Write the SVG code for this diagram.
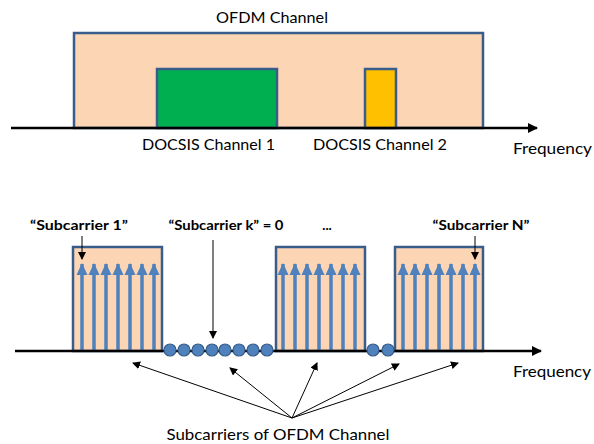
<svg xmlns="http://www.w3.org/2000/svg" width="594" height="444" viewBox="0 0 594 444">
<style>
text{font-family:Lato,"Liberation Sans",Arial,sans-serif;fill:#000}
.t{font-size:16px}
.b{font-size:13.5px;font-weight:bold}
.box{fill:#fcd5b5;stroke:#385d8a;stroke-width:2.5}
.axis{stroke:#000;stroke-width:2.5;fill:none}
.sc{stroke:#4f81bd;stroke-width:3.5;fill:none}
.dot{fill:#4f81bd;stroke:#385d8a;stroke-width:1.2}
.ptr{stroke:#000;stroke-width:1;fill:none}
</style>
<defs>
<marker id="ah" markerWidth="10" markerHeight="10" refX="9" refY="5" orient="auto" markerUnits="userSpaceOnUse"><path d="M0,0 L10,5 L0,10 z" fill="#000"/></marker>
<marker id="ahs" markerWidth="8" markerHeight="8" refX="7" refY="4" orient="auto" markerUnits="userSpaceOnUse"><path d="M0,0 L8,4 L0,8 z" fill="#000"/></marker>
<marker id="bh" markerWidth="12" markerHeight="12" refX="11" refY="6" orient="auto" markerUnits="userSpaceOnUse"><path d="M0,0.5 L12,6 L0,11.5 z" fill="#4f81bd"/></marker>
<g id="arr7">
<line class="sc" x1="0" y1="0" x2="0" y2="-87" marker-end="url(#bh)"/>
<line class="sc" x1="12" y1="0" x2="12" y2="-87" marker-end="url(#bh)"/>
<line class="sc" x1="24" y1="0" x2="24" y2="-87" marker-end="url(#bh)"/>
<line class="sc" x1="36" y1="0" x2="36" y2="-87" marker-end="url(#bh)"/>
<line class="sc" x1="48" y1="0" x2="48" y2="-87" marker-end="url(#bh)"/>
<line class="sc" x1="60" y1="0" x2="60" y2="-87" marker-end="url(#bh)"/>
<line class="sc" x1="72" y1="0" x2="72" y2="-87" marker-end="url(#bh)"/>
</g>
</defs>
<rect width="594" height="444" fill="#fff"/>

<!-- Top diagram -->
<g id="ofdm-channel">
<rect class="box" x="74" y="33" width="409" height="95"/>
<text class="t" x="272" y="23" text-anchor="middle" textLength="112" lengthAdjust="spacingAndGlyphs">OFDM Channel</text>
</g>
<g id="docsis-1">
<rect x="157" y="69" width="120" height="59" fill="#00b050" stroke="#385d8a" stroke-width="2.5"/>
<text class="t" x="208.5" y="150" text-anchor="middle" textLength="133" lengthAdjust="spacingAndGlyphs">DOCSIS Channel 1</text>
</g>
<g id="docsis-2">
<rect x="365" y="69" width="31" height="59" fill="#ffc000" stroke="#385d8a" stroke-width="2.5"/>
<text class="t" x="380" y="150" text-anchor="middle" textLength="134" lengthAdjust="spacingAndGlyphs">DOCSIS Channel 2</text>
</g>
<g id="axis-top">
<line class="axis" x1="11" y1="128" x2="537" y2="128" marker-end="url(#ah)"/>
<text class="t" x="513" y="154" textLength="79" lengthAdjust="spacingAndGlyphs">Frequency</text>
</g>

<!-- Bottom diagram -->
<g id="block-1">
<rect class="box" x="73" y="247" width="89" height="104"/>
<use href="#arr7" x="82" y="351"/>
</g>
<g id="block-2">
<rect class="box" x="276" y="247" width="89" height="104"/>
<use href="#arr7" x="283" y="351"/>
</g>
<g id="block-3">
<rect class="box" x="395" y="247" width="88" height="104"/>
<use href="#arr7" x="403" y="351"/>
</g>
<g id="axis-bottom">
<line class="axis" x1="15" y1="351" x2="541" y2="351" marker-end="url(#ah)"/>
<text class="t" x="513" y="377" textLength="78" lengthAdjust="spacingAndGlyphs">Frequency</text>
</g>
<g id="null-subcarriers">
<circle class="dot" cx="170" cy="350" r="6"/>
<circle class="dot" cx="184" cy="350" r="6"/>
<circle class="dot" cx="198" cy="350" r="6"/>
<circle class="dot" cx="212" cy="350" r="6"/>
<circle class="dot" cx="225" cy="350" r="6"/>
<circle class="dot" cx="239" cy="350" r="6"/>
<circle class="dot" cx="253" cy="350" r="6"/>
<circle class="dot" cx="267" cy="350" r="6"/>
<circle class="dot" cx="373" cy="350" r="6"/>
<circle class="dot" cx="388" cy="350" r="6"/>
</g>
<g id="label-sc1">
<text class="b" x="79" y="230" text-anchor="middle" textLength="98" lengthAdjust="spacingAndGlyphs">“Subcarrier 1”</text>
</g>
<g id="label-sck">
<text class="b" x="226" y="230" text-anchor="middle" textLength="115" lengthAdjust="spacingAndGlyphs">“Subcarrier k” = 0</text>
</g>
<g id="label-dots">
<text class="b" x="327" y="230" text-anchor="middle">...</text>
</g>
<g id="label-scn">
<text class="b" x="481" y="230" text-anchor="middle" textLength="97" lengthAdjust="spacingAndGlyphs">“Subcarrier N”</text>
</g>
<g id="label-bottom">
<text class="t" x="278" y="440" text-anchor="middle" textLength="223" lengthAdjust="spacingAndGlyphs">Subcarriers of OFDM Channel</text>
</g>
<g id="connectors">
<line class="ptr" x1="82" y1="236" x2="82" y2="259" marker-end="url(#ahs)"/>
<line class="ptr" x1="213" y1="240" x2="213" y2="338" marker-end="url(#ahs)"/>
<line class="ptr" x1="475" y1="236" x2="475" y2="259" marker-end="url(#ahs)"/>
<line class="ptr" x1="292" y1="418" x2="133" y2="363" marker-end="url(#ahs)"/>
<line class="ptr" x1="292" y1="418" x2="230" y2="368" marker-end="url(#ahs)"/>
<line class="ptr" x1="292" y1="418" x2="317" y2="363" marker-end="url(#ahs)"/>
<line class="ptr" x1="292" y1="418" x2="399" y2="364" marker-end="url(#ahs)"/>
<line class="ptr" x1="292" y1="418" x2="458" y2="363" marker-end="url(#ahs)"/>
</g>
</svg>
